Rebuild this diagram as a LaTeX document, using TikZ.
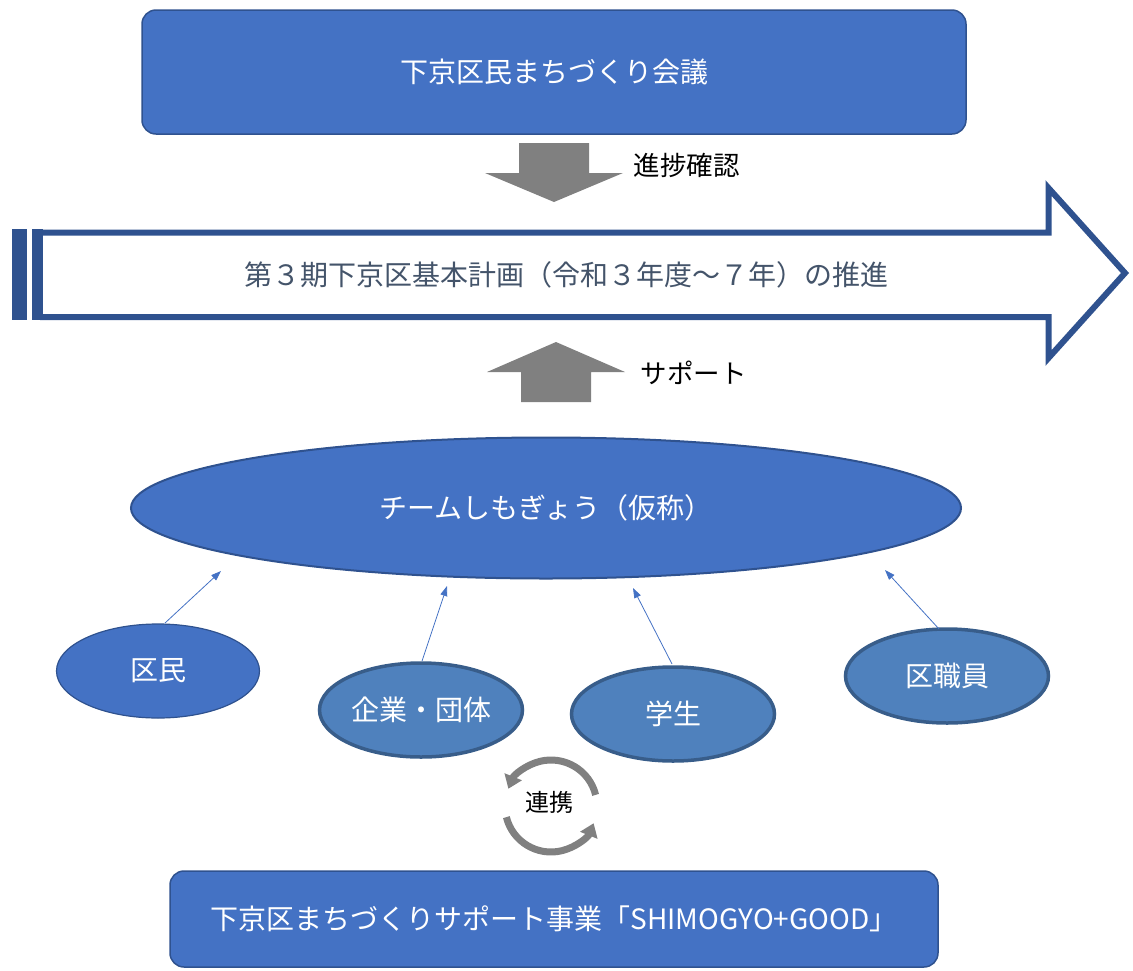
\documentclass[tikz,border=0pt]{standalone}
\usepackage{fontspec}
\setmainfont{Noto Sans CJK JP}
\usetikzlibrary{shapes.geometric,arrows.meta}
\definecolor{fillblue}{HTML}{4472C4}
\definecolor{edgeblue}{HTML}{2F528F}
\definecolor{mutedblue}{HTML}{4F81BD}
\definecolor{mutededge}{HTML}{385D8A}
\definecolor{arrowgray}{HTML}{808080}
\definecolor{slate}{HTML}{44546A}
\begin{document}
\begin{tikzpicture}[x=1pt,y=-1pt,
  bigfont/.style={font=\fontsize{28}{32}\selectfont},
  box/.style={draw=edgeblue, line width=1.5pt, fill=fillblue, rounded corners=14pt,
    text=white, bigfont, inner sep=0pt},
  bigell/.style={ellipse, draw=edgeblue, line width=2pt, fill=fillblue, text=white,
    bigfont, inner sep=0pt},
  ellA/.style={ellipse, draw=edgeblue, line width=1.2pt, fill=fillblue, text=white,
    bigfont, inner sep=0pt, minimum width=203pt, minimum height=94pt},
  ellB/.style={ellipse, draw=mutededge, line width=3.5pt, fill=mutedblue, text=white,
    bigfont, inner sep=0pt, minimum width=203pt, minimum height=94pt},
  label/.style={font=\fontsize{26.5}{30}\selectfont, text=black},
  feed/.style={draw=fillblue, line width=0.8pt, -{Triangle[length=10pt,width=7pt]}},
  cyc/.style={draw=arrowgray, line width=7pt, -{Triangle[length=13pt,width=18pt]}},
]
\useasboundingbox (0,0) rectangle (1133,970);

% top box
\node[box, minimum width=824pt, minimum height=124pt] (council) at (554,72) {下京区民まちづくり会議};

% down arrow
\fill[arrowgray] (519,143) -- (589,143) -- (589,173) -- (623,173) -- (554,202)
  -- (485,173) -- (519,173) -- cycle;
\node[label, anchor=west] (progress) at (630,165) {進捗確認};

% big striped arrow
\draw[edgeblue, line width=6pt, fill=white, miter limit=20]
  (40,232.5) -- (1048.5,232.5) -- (1048.5,188) -- (1125,273) -- (1048.5,358)
  -- (1048.5,317) -- (40,317);
\fill[edgeblue] (12,229) rectangle (27,320);
\fill[edgeblue] (32,229) rectangle (43,320);
\node[bigfont, text=slate] (plan) at (566,275) {第３期下京区基本計画（令和３年度～７年）の推進};

% up arrow
\fill[arrowgray] (556,342) -- (625,372) -- (591,372) -- (591,402) -- (521,402)
  -- (521,372) -- (487,372) -- cycle;
\node[label, anchor=west] (support) at (637,373) {サポート};

% team ellipse
\node[bigell, minimum width=830pt, minimum height=141pt] (team) at (546,508) {チームしもぎょう（仮称）};

% member ellipses
\node[ellA] (kumin) at (158,671) {区民};
\node[ellB] (kigyo) at (421,710) {企業・団体};
\node[ellB] (gakusei) at (673,714) {学生};
\node[ellB] (shokuin) at (947,676) {区職員};

% feed arrows
\coordinate (t1) at (221,571);
\coordinate (t2) at (447,586);
\coordinate (t3) at (633,588);
\coordinate (t4) at (885,570);
\coordinate (s1) at (165,623);
\coordinate (s2) at (422,661);
\coordinate (s3) at (672,664);
\coordinate (s4) at (939,629);
\draw[feed] (s1) -- (t1);
\draw[feed] (s2) -- (t2);
\draw[feed] (s3) -- (t3);
\draw[feed] (s4) -- (t4);

% cycle
\coordinate (cc) at (551,806);
\draw[cyc] ([shift={(-14:46)}]cc) arc[start angle=-14, end angle=-158, radius=46];
\draw[cyc] ([shift={(166:46)}]cc) arc[start angle=166, end angle=22, radius=46];
\node[font=\fontsize{24}{28}\selectfont] (renkei) at (549,802) {連携};

% bottom box
\node[box, minimum width=768pt, minimum height=96pt] (good) at (554,919) {下京区まちづくりサポート事業「SHIMOGYO+GOOD」};
\end{tikzpicture}
\end{document}
